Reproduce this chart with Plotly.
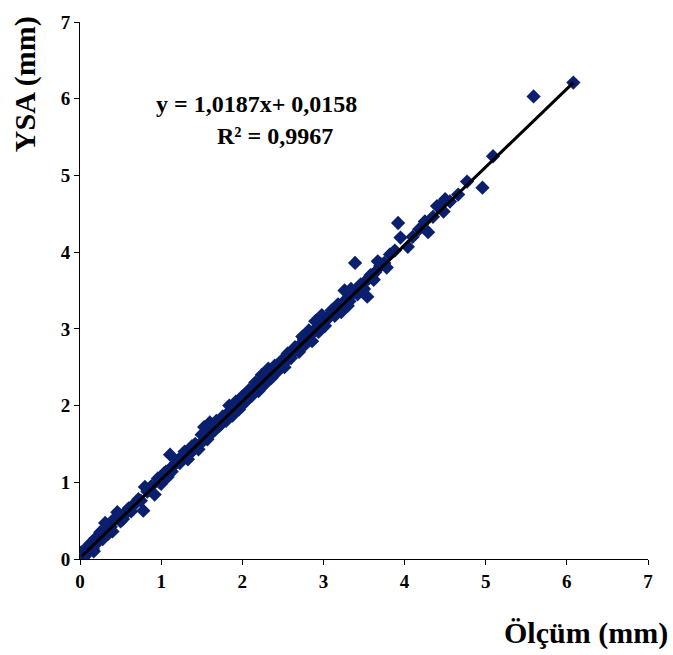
import plotly.graph_objects as go
import numpy as np

# Measured (Ölçüm) values
olcum = [0.02, 0.05, 0.08, 0.10, 0.13, 0.16, 0.19, 0.22, 0.25, 0.28, 0.31, 0.35, 0.38, 0.42,
         0.46, 0.50, 0.55, 0.60, 0.66, 0.72, 0.78, 0.80, 0.85, 0.92, 0.96, 1.00, 1.04, 1.08,
         1.11, 1.15, 1.20, 1.25, 1.29, 1.33, 1.38, 1.42, 1.46, 1.50, 1.53, 1.57, 1.60, 1.64,
         1.68, 1.72, 1.76, 1.80, 1.84, 1.88, 1.92, 1.96, 2.00, 2.04, 2.08, 2.12, 2.16, 2.20,
         2.24, 2.28, 2.32, 2.36, 2.40, 2.44, 2.48, 2.52, 2.56, 2.60, 2.65, 2.70, 2.74, 2.78,
         2.82, 2.86, 2.90, 2.94, 2.98, 3.02, 3.06, 3.10, 3.14, 3.18, 3.22, 3.26, 3.30, 3.34,
         3.39, 3.42, 3.46, 3.50, 3.54, 3.58, 3.62, 3.67, 3.72, 3.78, 3.82, 3.88, 3.92, 3.95,
         4.04, 4.10, 4.18, 4.25, 4.29, 4.35, 4.40, 4.45, 4.48, 4.50, 4.56, 4.66, 4.77, 4.96,
         5.09, 5.59, 6.08]

# Predicted (YSA) values
ysa = [0.09, 0.03, 0.12, 0.08, 0.20, 0.13, 0.27, 0.22, 0.35, 0.26, 0.47, 0.33, 0.42, 0.52,
       0.61, 0.49, 0.58, 0.66, 0.70, 0.78, 0.63, 0.94, 0.90, 0.84, 1.05, 0.98, 1.12, 1.07,
       1.36, 1.22, 1.27, 1.33, 1.40, 1.30, 1.47, 1.50, 1.43, 1.62, 1.72, 1.56, 1.78, 1.66,
       1.80, 1.74, 1.86, 1.80, 2.00, 1.87, 2.05, 1.95, 2.12, 2.05, 2.20, 2.13, 2.30, 2.19,
       2.40, 2.28, 2.48, 2.36, 2.52, 2.45, 2.58, 2.50, 2.68, 2.62, 2.76, 2.70, 2.90, 2.80,
       2.98, 2.84, 3.10, 2.96, 3.18, 3.04, 3.15, 3.24, 3.17, 3.32, 3.22, 3.50, 3.30, 3.52,
       3.86, 3.45, 3.58, 3.52, 3.42, 3.70, 3.64, 3.88, 3.84, 3.80, 3.97, 4.02, 4.38, 4.19,
       4.07, 4.20, 4.30, 4.40, 4.26, 4.46, 4.60, 4.62, 4.53, 4.69, 4.66, 4.75, 4.92, 4.84,
       5.25, 6.03, 6.21]

# Additional points in the dense band
olcum_b = [0.04, 0.11, 0.17, 0.24, 0.33, 0.40, 0.48, 0.53, 0.58, 0.63, 0.69, 0.75, 0.83, 0.88,
           0.98, 1.06, 1.13, 1.18, 1.23, 1.27, 1.36, 1.40, 1.48, 1.55, 1.62, 1.66, 1.70, 1.74,
           1.78, 1.82, 1.86, 1.90, 1.94, 1.98, 2.02, 2.06, 2.10, 2.14, 2.18, 2.22, 2.26, 2.30,
           2.34, 2.38, 2.42, 2.46, 2.50, 2.54, 2.58, 2.63, 2.68, 2.72, 2.76, 2.80, 2.84, 2.88,
           2.92, 2.96, 3.00, 3.04, 3.08, 3.12, 3.16, 3.20, 3.24, 3.28, 3.32, 3.36, 3.44, 3.48,
           3.52, 3.56, 3.60, 3.64, 3.70, 3.75]
ysa_b = [0.02, 0.18, 0.10, 0.30, 0.40, 0.36, 0.56, 0.52, 0.63, 0.62, 0.74, 0.76, 0.88, 0.95,
         1.00, 1.14, 1.14, 1.25, 1.25, 1.35, 1.38, 1.46, 1.50, 1.64, 1.70, 1.68, 1.77, 1.76,
         1.85, 1.90, 1.93, 1.96, 2.02, 2.00, 2.10, 2.12, 2.17, 2.22, 2.26, 2.25, 2.35, 2.40,
         2.42, 2.44, 2.50, 2.52, 2.60, 2.58, 2.66, 2.72, 2.73, 2.80, 2.86, 2.88, 2.93, 2.96,
         3.02, 3.05, 3.08, 3.14, 3.16, 3.22, 3.26, 3.28, 3.34, 3.38, 3.36, 3.46, 3.55, 3.54,
         3.62, 3.66, 3.70, 3.74, 3.82, 3.86]

slope = 1.0187
intercept = 0.0158
eq_text = "y = 1,0187x+ 0,0158"
r2_text = "R² = 0,9967"
ticks = [0, 1, 2, 3, 4, 5, 6, 7]

serif = "Liberation Serif, Times New Roman, serif"

xs = olcum + olcum_b
ys = ysa + ysa_b

fig = go.Figure()
fig.add_trace(go.Scatter(
    x=xs, y=ys, mode="markers",
    marker=dict(symbol="diamond", size=11, color="#0a1f6e", line=dict(width=0)),
    showlegend=False))

xl = np.array([min(xs), max(xs)])
fig.add_trace(go.Scatter(
    x=xl, y=slope * xl + intercept, mode="lines",
    line=dict(color="black", width=3), showlegend=False))

axis_common = dict(range=[0, 7], tickvals=ticks, showgrid=False, zeroline=False,
                   showline=True, linecolor="black", linewidth=1,
                   ticks="outside", ticklen=5, tickcolor="black", tickwidth=1,
                   tickfont=dict(family=serif, size=19, color="black", weight="bold"))
fig.update_xaxes(**axis_common)
fig.update_yaxes(**axis_common)

fig.add_annotation(x=2.18, y=5.93, xref="x", yref="y", text="<b>" + eq_text + "</b>",
                   showarrow=False, font=dict(family=serif, size=24, color="black"))
fig.add_annotation(x=2.40, y=5.51, xref="x", yref="y", text="<b>" + r2_text + "</b>",
                   showarrow=False, font=dict(family=serif, size=24, color="black"))
fig.add_annotation(x=-0.097, y=0.884, xref="paper", yref="paper", text="<b>YSA (mm)</b>",
                   textangle=-90, showarrow=False, xanchor="center", yanchor="middle",
                   font=dict(family=serif, size=30, color="black"))
fig.add_annotation(x=1.039, y=-0.138, xref="paper", yref="paper", text="<b>Ölçüm (mm)</b>",
                   showarrow=False, xanchor="right", yanchor="middle",
                   font=dict(family=serif, size=30, color="black"))

fig.update_layout(width=673, height=655, margin=dict(l=80, r=25, t=22, b=96),
                  plot_bgcolor="white", paper_bgcolor="white")

fig.write_html("out.html")
